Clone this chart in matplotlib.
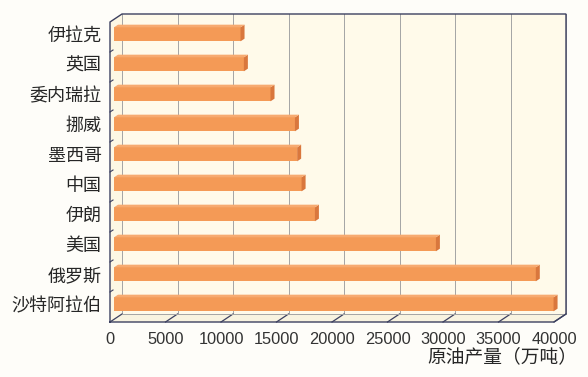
import matplotlib
matplotlib.use("Agg")
import matplotlib.pyplot as plt
import numpy as np
from matplotlib.patches import Polygon

countries = ['伊拉克', '英国', '委内瑞拉', '挪威', '墨西哥', '中国', '伊朗', '美国', '俄罗斯', '沙特阿拉伯']
output = [11400, 11700, 14100, 16300, 16500, 16900, 18100, 29000, 38000, 39600]
xticks = [0, 5000, 10000, 15000, 20000, 25000, 30000, 35000, 40000]
xticklabels = ['0', '5000', '10000', '15000', '20000', '25000', '30000', '35000', '40000']
xlabel = '原油产量（万吨）'

plt.rcParams['font.family'] = ['Liberation Sans', 'Noto Sans CJK SC', 'DejaVu Sans']

W, H = 588, 377
fig = plt.figure(figsize=(W / 100, H / 100), dpi=100, facecolor='#fefdf9')
L, R, T, B = 110, 554, 22, 322
ax = fig.add_axes([L / W, 1 - B / H, (R - L) / W, (B - T) / H])
n = len(countries)
xmax = xticks[-1]
ax.set_xlim(0, xmax)
ax.set_ylim(-0.5, n - 0.5)
ax.patch.set_visible(False)
for s in ax.spines.values():
    s.set_visible(False)

ux = xmax / (R - L)
uy = n / (B - T)
Dx, Dy = 12 * ux, 8 * uy
y0, y1 = -0.5, n - 0.5

wall = '#fffaea'
frame = '#3c4060'
grid = '#a4a4a4'
orange = '#f49a56'
cap = '#d9773d'
topc = '#f7aa70'

# walls
ax.add_patch(Polygon([(Dx, y0 + Dy), (xmax + Dx, y0 + Dy), (xmax + Dx, y1 + Dy), (Dx, y1 + Dy)],
                     closed=True, fc=wall, ec='none', zorder=0, clip_on=False))
ax.add_patch(Polygon([(0, y0), (Dx, y0 + Dy), (Dx, y1 + Dy), (0, y1)],
                     closed=True, fc='#fdf7e4', ec='none', zorder=0, clip_on=False))
ax.add_patch(Polygon([(0, y0), (xmax, y0), (xmax + Dx, y0 + Dy), (Dx, y0 + Dy)],
                     closed=True, fc='#f8f3e0', ec='none', zorder=0, clip_on=False))

# gridlines
for t in xticks:
    ax.plot([t + Dx, t + Dx], [y0 + Dy, y1 + Dy], color=grid, lw=0.7, zorder=1, clip_on=False)
    ax.plot([t, t + Dx], [y0, y0 + Dy], color=frame, lw=0.9, zorder=1, clip_on=False)
ax.plot([Dx, xmax + Dx], [y0 + Dy, y0 + Dy], color=grid, lw=0.7, zorder=1, clip_on=False)

# frame outline
fx = [0, 0, Dx, xmax + Dx, xmax + Dx, xmax, 0]
fy = [y0, y1, y1 + Dy, y1 + Dy, y0 + Dy, y0, y0]
ax.plot(fx, fy, color=frame, lw=1.0, zorder=5, clip_on=False, solid_joinstyle='miter')

# left axis boundary ticks
for b in np.arange(n - 1) + 0.5:
    ax.plot([0, 3 * ux], [b, b + 2 * uy], color=frame, lw=0.8, zorder=5, clip_on=False)

# bars
ypos = np.arange(n)[::-1]
h = 14 * uy
bx, by = Dx / 3, Dy / 3
ax.barh(ypos + by, output, left=bx, height=h, color=orange, edgecolor='none', zorder=3)
for y, v in zip(ypos, output):
    ax.add_patch(Polygon([(v + bx, y + by - h / 2), (v + 2 * bx, y + 2 * by - h / 2),
                          (v + 2 * bx, y + 2 * by + h / 2), (v + bx, y + by + h / 2)],
                         closed=True, fc=cap, ec='none', zorder=3, clip_on=False))
    ax.add_patch(Polygon([(bx, y + by + h / 2), (v + bx, y + by + h / 2),
                          (v + 2 * bx, y + 2 * by + h / 2), (2 * bx, y + 2 * by + h / 2)],
                         closed=True, fc=topc, ec='none', zorder=3, clip_on=False))

ax.set_yticks(ypos + by, countries)
ax.set_xticks(xticks, xticklabels)
ax.tick_params(axis='y', length=0, pad=6, labelsize=13, labelcolor='#262626')
ax.tick_params(axis='x', length=0, pad=7, labelsize=11.8, labelcolor='#333333')

fig.text(577 / W, 1 - 357 / H, xlabel, ha='right', va='center', fontsize=13.5, color='#262626')

fig.savefig('out.png', dpi=100, facecolor=fig.get_facecolor())
